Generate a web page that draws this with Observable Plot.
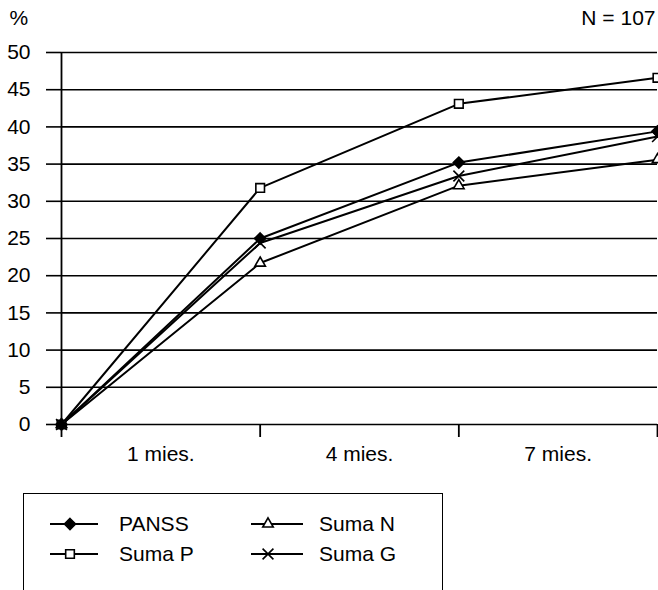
<!DOCTYPE html>
<html><head><meta charset="utf-8">
<script src="https://cdn.jsdelivr.net/npm/d3@7"></script>
<script src="https://cdn.jsdelivr.net/npm/@observablehq/plot@0.6"></script>
<style>
html,body{margin:0;padding:0;background:#fff;overflow:hidden;}
body{width:658px;height:590px;position:relative;font-family:"Liberation Sans",Arial,sans-serif;color:#000;}
#chart{position:absolute;left:0;top:0;}
#legend{position:absolute;left:23px;top:493px;width:420px;height:130px;border:1.5px solid #000;border-bottom:none;box-sizing:border-box;}
.item{position:absolute;height:30px;display:flex;align-items:center;font-size:21px;white-space:nowrap;}
.item svg{display:block;}
</style></head><body>
<div id="chart"></div>
<div id="legend"></div>
<script>
// ---- data ----
const pointIndex = [0, 1, 2, 3];
const xLabels = ["1 mies.", "4 mies.", "7 mies."];
const xLabelPos = [0.5, 1.5, 2.5];
const xTickPos = [0, 1, 2, 3];
const yTicks = [0, 5, 10, 15, 20, 25, 30, 35, 40, 45, 50];
const seriesNames = ["PANSS", "Suma N", "Suma P", "Suma G"];
const panss = [0, 25.0, 35.2, 39.4];
const sumaN = [0, 21.7, 32.1, 35.6];
const sumaP = [0, 31.8, 43.1, 46.6];
const sumaG = [0, 24.4, 33.4, 38.7];
const yUnit = "%";
const sampleNote = "N = 107";

// ---- build ----
const seriesValues = [panss, sumaN, sumaP, sumaG];
const styles = [
  {symbol: "diamond2", fill: "#000", stroke: "#000", r: 5},
  {symbol: "triangle2", fill: "#fff", stroke: "#000", r: 5},
  {symbol: "square2", fill: "#fff", stroke: "#000", r: 5.5},
  {symbol: "times", fill: "none", stroke: "#000", r: 5}
];
const series = seriesNames.map((name, k) => ({
  name, style: styles[k],
  rows: pointIndex.map((i, j) => ({i, v: seriesValues[k][j]}))
}));

const lineMarks = series.map(s => Plot.line(s.rows, {x: "i", y: "v", stroke: "#000", strokeWidth: 2}));
const dotOrder = [3, 1, 2, 0];
const dotMarks = dotOrder.map(k => {
  const s = series[k];
  return Plot.dot(s.rows, {x: "i", y: "v", symbol: () => s.style.symbol, r: s.style.r,
    fill: s.style.fill, stroke: s.style.stroke, strokeWidth: 1.6});
});

const chart = Plot.plot({
  width: 658, height: 485,
  marginLeft: 61, marginRight: 1, marginTop: 52, marginBottom: 61,
  x: {domain: [0, 3]},
  y: {domain: [0, 50]},
  style: {fontFamily: "'Liberation Sans', Arial, sans-serif", fontSize: "21px", color: "#000", background: "#fff", overflow: "visible"},
  marks: [
    Plot.ruleY(yTicks, {x1: 0, x2: 3, stroke: "#000", strokeWidth: 1.6}),
    Plot.axisY({ticks: yTicks, tickSize: 15, tickPadding: 16, label: null, strokeWidth: 1.6, fontSize: 21}),
    Plot.ruleX([0], {y1: 0, y2: 50, stroke: "#000", strokeWidth: 1.8}),
    Plot.axisX({ticks: xTickPos, tickSize: 13, tickFormat: () => "", label: null, strokeWidth: 1.8}),
    Plot.axisX({ticks: xLabelPos, tickSize: 0, tickPadding: 22, tickFormat: d => xLabels[Math.floor(d)], label: null, fontSize: 21}),
    ...lineMarks,
    ...dotMarks,
    Plot.text([yUnit], {text: d => d, frameAnchor: "top-left", dx: -52, dy: -34, textAnchor: "start", lineAnchor: "middle", fontSize: 21}),
    Plot.text([sampleNote], {text: d => d, frameAnchor: "top-right", dx: -2, dy: -34, textAnchor: "end", lineAnchor: "middle", fontSize: 21})
  ]
});
document.getElementById("chart").appendChild(chart);

// ---- legend ----
const symbolMap = {diamond2: d3.symbolDiamond2, triangle2: d3.symbolTriangle2, square2: d3.symbolSquare2, times: d3.symbolTimes};
const legend = d3.select("#legend");
const colLeft = [26, 227];
const lineW = [48, 52];
const markerAt = [20, 17];
const textGap = [21, 16];
const rowTop = [15, 45];
series.forEach((s, k) => {
  const col = k % 2, row = Math.floor(k / 2);
  const item = legend.append("div").attr("class", "item")
    .style("left", colLeft[col] + "px").style("top", rowTop[row] + "px");
  const svg = item.append("svg").attr("width", lineW[col]).attr("height", 20)
    .style("margin-right", textGap[col] + "px");
  svg.append("line").attr("x1", 0).attr("x2", lineW[col]).attr("y1", 10).attr("y2", 10)
    .attr("stroke", "#000").attr("stroke-width", 2);
  const size = Math.PI * s.style.r * s.style.r;
  svg.append("path").attr("d", d3.symbol(symbolMap[s.style.symbol], size)())
    .attr("transform", `translate(${markerAt[col]},10)`)
    .attr("fill", s.style.fill).attr("stroke", s.style.stroke).attr("stroke-width", 1.6);
  item.append("span").text(s.name);
});
</script>
</body></html>
